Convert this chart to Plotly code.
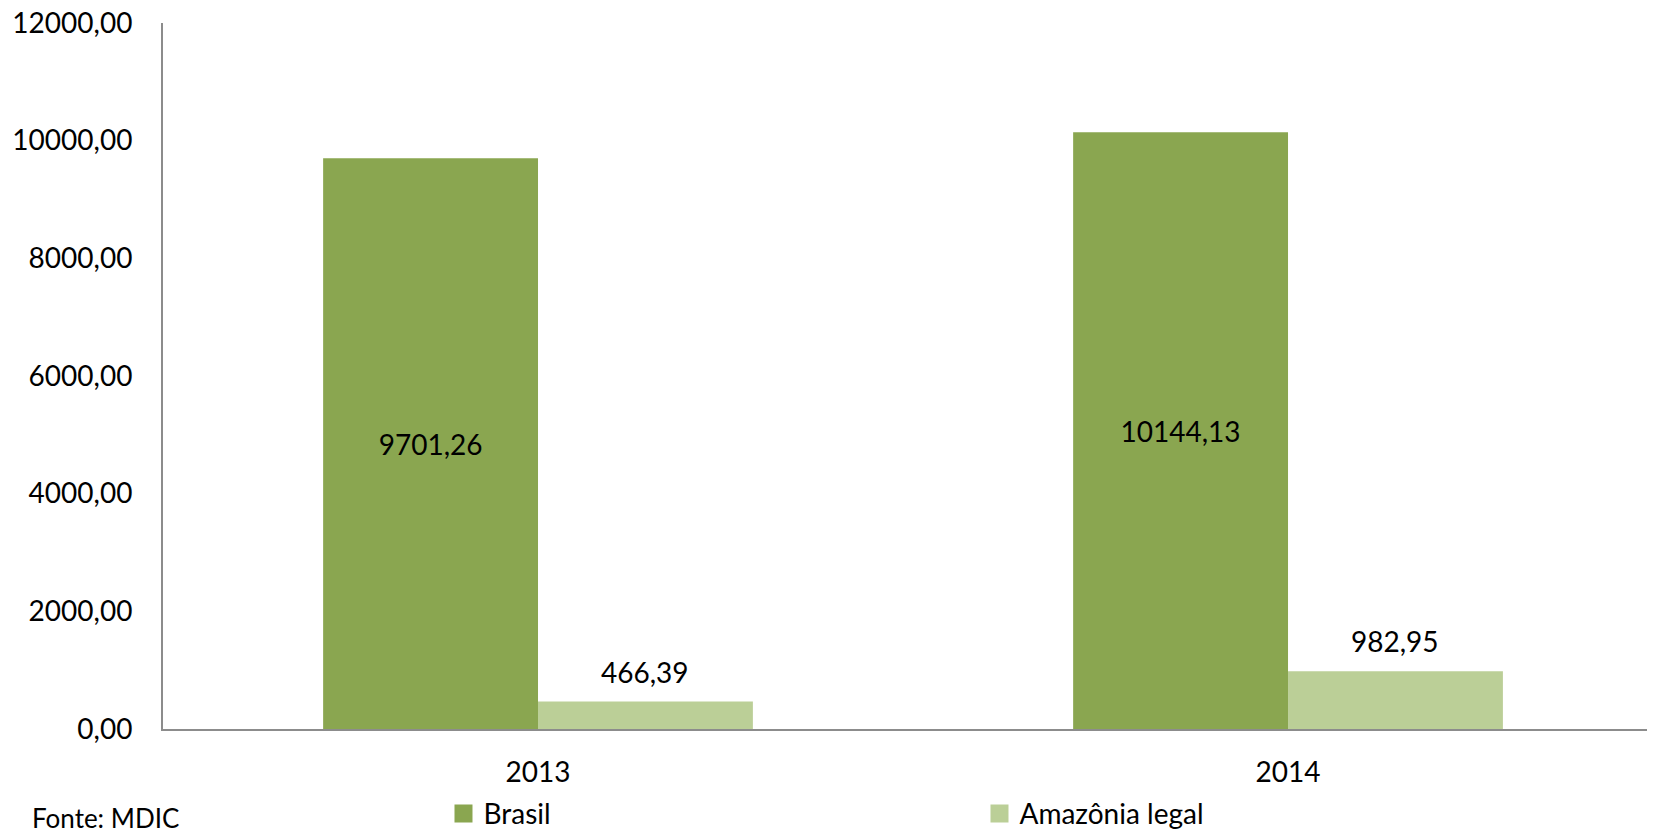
import plotly.graph_objects as go

# Dados
anos = ["2013", "2014"]
brasil = [9701.26, 10144.13]
amazonia_legal = [466.39, 982.95]
y_ticks = [0, 2000, 4000, 6000, 8000, 10000, 12000]

FONTE = "Lato"
COR_BRASIL = "#8AA650"
COR_AMAZONIA = "#BBCF97"
TAM = 28

fig = go.Figure()

# Barras Brasil
fig.add_trace(go.Bar(
    x=anos,
    y=brasil,
    name="Brasil",
    marker=dict(color=COR_BRASIL, line=dict(width=0)),
    texttemplate="%{y:.2f}",
    textposition="inside",
    insidetextanchor="middle",
    textfont=dict(color="black", size=TAM, family=FONTE),
    showlegend=False,
))

# Barras Amazônia legal
fig.add_trace(go.Bar(
    x=anos,
    y=amazonia_legal,
    name="Amazônia legal",
    marker=dict(color=COR_AMAZONIA, line=dict(width=0)),
    showlegend=False,
))

# Rótulos acima das barras da Amazônia legal
for i, valor in enumerate(amazonia_legal):
    fig.add_annotation(
        x=i, y=valor, xref="x", yref="y",
        text=f"{valor:.2f}".replace(".", ","),
        showarrow=False,
        xshift=107, yshift=30,
        yanchor="middle",
        font=dict(size=TAM, family=FONTE, color="black"),
    )

# Itens da legenda (marcadores quadrados maiores)
for nome, cor in [("Brasil", COR_BRASIL), ("Amazônia legal", COR_AMAZONIA)]:
    fig.add_trace(go.Scatter(
        x=[None], y=[None],
        mode="markers",
        name=nome,
        marker=dict(symbol="square", size=16, color=cor, line=dict(color=cor, width=2)),
        showlegend=True,
    ))

# a página tem 8px de margem no body
fig.update_layout(
    width=1647,
    height=827,
    margin=dict(l=155, r=0, t=15, b=106, autoexpand=False),
    paper_bgcolor="white",
    plot_bgcolor="white",
    separators=",.",
    barmode="group",
    bargap=0.427,
    bargroupgap=0,
    font=dict(family=FONTE, size=TAM, color="black"),
    showlegend=True,
    legend=dict(
        orientation="h",
        x=0.188,
        xanchor="left",
        y=-0.12,
        yanchor="middle",
        entrywidth=491,
        entrywidthmode="pixels",
        itemsizing="trace",
        font=dict(size=TAM, family=FONTE, color="black"),
        bgcolor="rgba(0,0,0,0)",
    ),
)

fig.update_xaxes(
    type="category",
    range=[-0.5, 1.4893],
    showline=True,
    linecolor="#8C8C8C",
    linewidth=2,
    showgrid=False,
    ticks="",
    ticklabelstandoff=17,
    tickfont=dict(size=TAM, family=FONTE, color="black"),
)

fig.update_yaxes(
    range=[0, 12000],
    tickvals=y_ticks,
    tickformat=".2f",
    showline=True,
    linecolor="#8C8C8C",
    linewidth=2,
    showgrid=False,
    zeroline=False,
    ticks="",
    ticklabelstandoff=23,
    ticklabeloverflow="allow",
    tickfont=dict(size=TAM, family=FONTE, color="black"),
)

# Fonte
fig.add_annotation(
    text="Fonte: MDIC",
    xref="paper", yref="paper",
    x=-0.089, y=-0.126,
    xanchor="left", yanchor="middle",
    showarrow=False,
    font=dict(size=26, family=FONTE, color="black"),
)

fig.write_html("out.html")
